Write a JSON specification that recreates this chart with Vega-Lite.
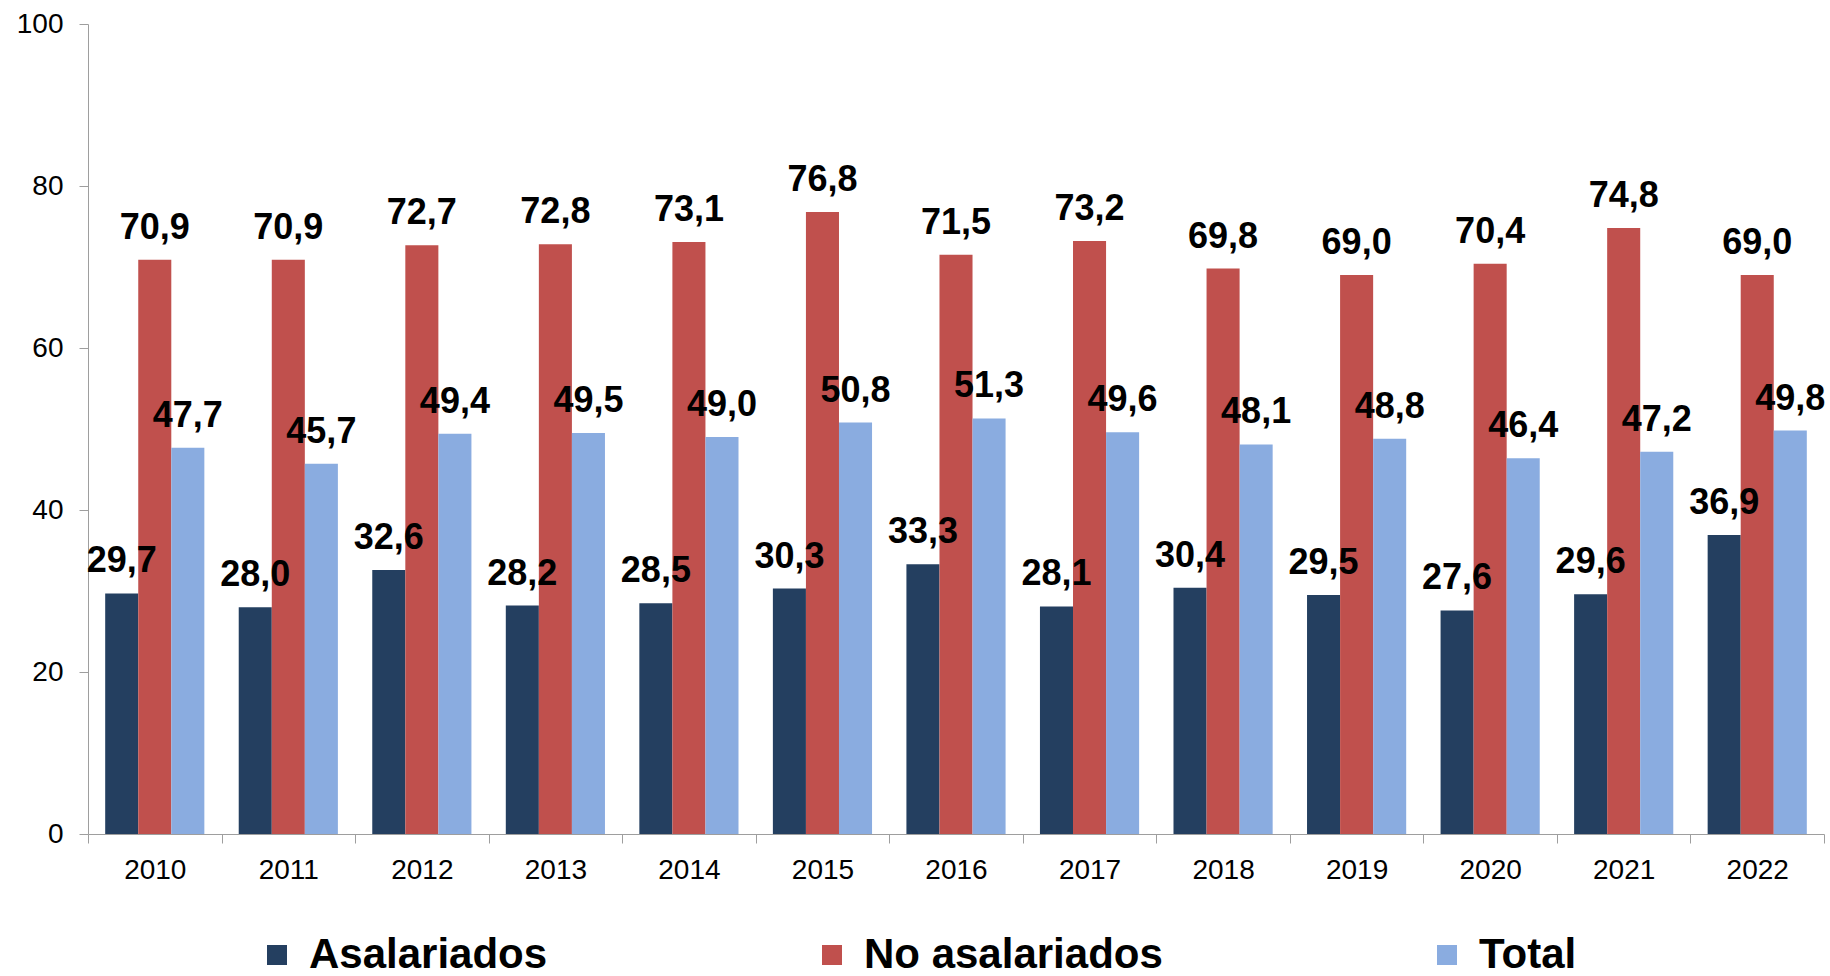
{
  "$schema": "https://vega.github.io/schema/vega-lite/v6.json",
  "autosize": {"type": "none"},
  "padding": {"left": 88, "top": 24, "right": 6, "bottom": 142},
  "width": 1736,
  "height": 810,
  "background": "white",
  "config": {
    "locale": {"number": {"decimal": ",", "thousands": ".", "grouping": [3], "currency": ["", " €"]}},
    "view": {"stroke": null},
    "font": "Liberation Sans"
  },
  "data": {
    "values": [
      {"year": "2010", "serie": "Asalariados", "valor": 29.7},
      {"year": "2010", "serie": "No asalariados", "valor": 70.9},
      {"year": "2010", "serie": "Total", "valor": 47.7},
      {"year": "2011", "serie": "Asalariados", "valor": 28.0},
      {"year": "2011", "serie": "No asalariados", "valor": 70.9},
      {"year": "2011", "serie": "Total", "valor": 45.7},
      {"year": "2012", "serie": "Asalariados", "valor": 32.6},
      {"year": "2012", "serie": "No asalariados", "valor": 72.7},
      {"year": "2012", "serie": "Total", "valor": 49.4},
      {"year": "2013", "serie": "Asalariados", "valor": 28.2},
      {"year": "2013", "serie": "No asalariados", "valor": 72.8},
      {"year": "2013", "serie": "Total", "valor": 49.5},
      {"year": "2014", "serie": "Asalariados", "valor": 28.5},
      {"year": "2014", "serie": "No asalariados", "valor": 73.1},
      {"year": "2014", "serie": "Total", "valor": 49.0},
      {"year": "2015", "serie": "Asalariados", "valor": 30.3},
      {"year": "2015", "serie": "No asalariados", "valor": 76.8},
      {"year": "2015", "serie": "Total", "valor": 50.8},
      {"year": "2016", "serie": "Asalariados", "valor": 33.3},
      {"year": "2016", "serie": "No asalariados", "valor": 71.5},
      {"year": "2016", "serie": "Total", "valor": 51.3},
      {"year": "2017", "serie": "Asalariados", "valor": 28.1},
      {"year": "2017", "serie": "No asalariados", "valor": 73.2},
      {"year": "2017", "serie": "Total", "valor": 49.6},
      {"year": "2018", "serie": "Asalariados", "valor": 30.4},
      {"year": "2018", "serie": "No asalariados", "valor": 69.8},
      {"year": "2018", "serie": "Total", "valor": 48.1},
      {"year": "2019", "serie": "Asalariados", "valor": 29.5},
      {"year": "2019", "serie": "No asalariados", "valor": 69.0},
      {"year": "2019", "serie": "Total", "valor": 48.8},
      {"year": "2020", "serie": "Asalariados", "valor": 27.6},
      {"year": "2020", "serie": "No asalariados", "valor": 70.4},
      {"year": "2020", "serie": "Total", "valor": 46.4},
      {"year": "2021", "serie": "Asalariados", "valor": 29.6},
      {"year": "2021", "serie": "No asalariados", "valor": 74.8},
      {"year": "2021", "serie": "Total", "valor": 47.2},
      {"year": "2022", "serie": "Asalariados", "valor": 36.9},
      {"year": "2022", "serie": "No asalariados", "valor": 69.0},
      {"year": "2022", "serie": "Total", "valor": 49.8}
    ]
  },
  "encoding": {
    "x": {
      "field": "year", "type": "nominal",
      "scale": {"paddingInner": 0, "paddingOuter": 0},
      "axis": {
        "title": null, "labelAngle": 0, "tickBand": "extent",
        "domainColor": "#9E9E9E", "tickColor": "#9E9E9E", "tickSize": 9,
        "labelFontSize": 28, "labelColor": "#000000", "labelPadding": 13,
        "labelFont": "Liberation Sans", "grid": false
      }
    },
    "xOffset": {
      "field": "serie", "type": "nominal",
      "sort": ["Asalariados", "No asalariados", "Total"],
      "scale": {"paddingInner": 0, "paddingOuter": 0.52}
    },
    "y": {
      "field": "valor", "type": "quantitative",
      "scale": {"domain": [0, 100], "nice": false, "zero": true},
      "axis": {
        "title": null, "values": [0, 20, 40, 60, 80, 100], "format": "d",
        "grid": false, "domainColor": "#9E9E9E", "tickColor": "#9E9E9E",
        "tickSize": 9, "labelFontSize": 28, "labelColor": "#000000",
        "labelPadding": 16, "labelFont": "Liberation Sans"
      }
    }
  },
  "layer": [
    {
      "mark": {"type": "bar"},
      "encoding": {
        "color": {
          "field": "serie", "type": "nominal",
          "sort": ["Asalariados", "No asalariados", "Total"],
          "scale": {"domain": ["Asalariados", "No asalariados", "Total"], "range": ["#243F60", "#C0504D", "#8AACE0"]},
          "legend": {
            "title": null, "orient": "none", "direction": "horizontal",
            "legendX": 168, "legendY": 910, "columns": 3, "columnPadding": 263,
            "padding": 0, "symbolType": "square", "symbolSize": 400,
            "symbolStrokeWidth": 0, "labelFontSize": 42, "labelFontWeight": "bold",
            "labelColor": "#000000", "labelOffset": 11, "labelFont": "Liberation Sans",
            "labelLimit": 600
          }
        }
      }
    },
    {
      "mark": {"type": "text", "fontSize": 36, "fontWeight": "bold", "color": "#000000", "baseline": "alphabetic", "dy": -21, "font": "Liberation Sans"},
      "encoding": {
        "text": {"field": "valor", "type": "quantitative", "format": ".1f"}
      }
    }
  ]
}
